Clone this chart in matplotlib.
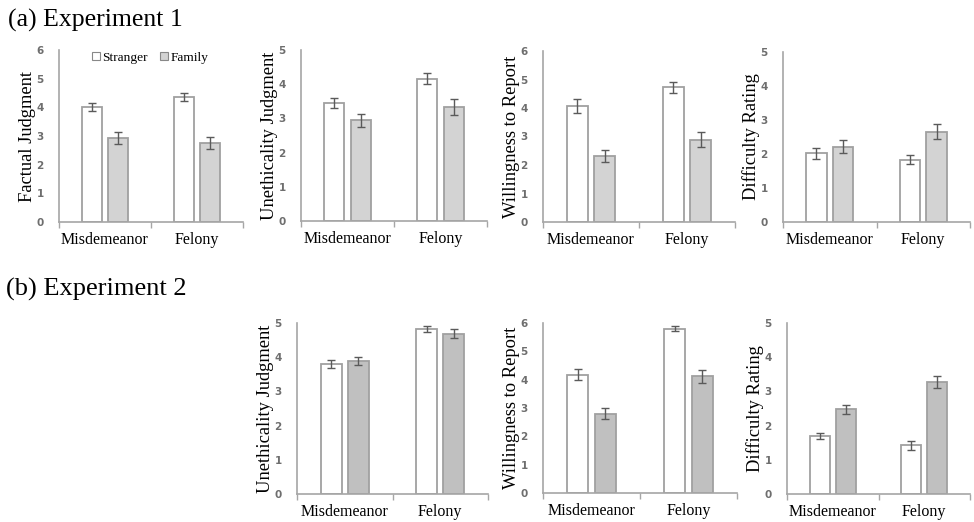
import matplotlib
matplotlib.use("Agg")
import matplotlib.pyplot as plt
import numpy as np
from matplotlib.patches import Patch

categories = ["Misdemeanor", "Felony"]
series = ["Stranger", "Family"]

# Experiment 1
e1_labels = ["Factual Judgment", "Unethicality Judgment", "Willingness to Report", "Difficulty Rating"]
e1_ymax = [6, 5, 6, 5]
e1_stranger = [[4.00, 4.35], [3.45, 4.16], [4.07, 4.73], [2.02, 1.83]]
e1_stranger_err = [[0.14, 0.14], [0.155, 0.16], [0.23, 0.19], [0.16, 0.13]]
e1_family = [[2.93, 2.75], [2.94, 3.33], [2.32, 2.89], [2.22, 2.66]]
e1_family_err = [[0.20, 0.22], [0.20, 0.24], [0.21, 0.26], [0.20, 0.23]]

# Experiment 2
e2_labels = ["Unethicality Judgment", "Willingness to Report", "Difficulty Rating"]
e2_ymax = [5, 6, 5]
e2_stranger = [[3.80, 4.83], [4.18, 5.80], [1.70, 1.42]]
e2_stranger_err = [[0.12, 0.08], [0.20, 0.09], [0.08, 0.12]]
e2_family = [[3.89, 4.68], [2.80, 4.12], [2.48, 3.28]]
e2_family_err = [[0.12, 0.13], [0.19, 0.22], [0.13, 0.17]]

W, H = 974, 522
fig = plt.figure(figsize=(W / 100, H / 100), dpi=100)

serif = ["Liberation Serif", "DejaVu Serif"]
spine_c = "#a6a6a6"
edge_c = "#a0a0a0"
err_c = "#5a5a5a"


def px_axes(l, r, b, t):
    return fig.add_axes([l / W, 1 - b / H, (r - l) / W, (b - t) / H])


def draw(ax, ymax, s, se, f, fe, label, fam_color):
    x = np.arange(len(categories))
    w = 0.22
    off = 0.143
    ax.bar(x - off, s, w, color="white", edgecolor=edge_c, linewidth=1.3, zorder=2)
    ax.bar(x + off, f, w, color=fam_color, edgecolor=edge_c, linewidth=1.3, zorder=2)
    ax.errorbar(x - off, s, yerr=se, fmt="none", ecolor=err_c, elinewidth=1.0, capsize=3, capthick=1.0, zorder=3)
    ax.errorbar(x + off, f, yerr=fe, fmt="none", ecolor=err_c, elinewidth=1.0, capsize=3, capthick=1.0, zorder=3)
    ax.set_xlim(-0.5, 1.5)
    ax.set_ylim(0, ymax)
    ax.set_yticks(range(0, ymax + 1))
    ax.set_xticks(x)
    ax.set_xticklabels(categories, fontfamily=serif, fontsize=11.5)
    ax.set_xticks([-0.5, 0.5, 1.5], minor=True)
    ax.tick_params(axis="x", which="major", length=0, pad=7)
    ax.tick_params(axis="x", which="minor", length=4, width=1, color=spine_c, direction="out")
    ax.tick_params(axis="y", length=0, pad=11, labelsize=7.5, labelcolor="#6e6e6e")
    for t in ax.get_yticklabels():
        t.set_fontweight("bold")
    for sp in ["top", "right"]:
        ax.spines[sp].set_visible(False)
    for sp in ["left", "bottom"]:
        ax.spines[sp].set_color(spine_c)
        ax.spines[sp].set_linewidth(1.2)
    ax.set_ylabel(label, fontfamily=serif, fontsize=13.3, labelpad=0.5)
    ax.set_facecolor("none")


e1_pos = [(59, 243, 222, 50), (301, 487, 221, 50), (543, 735, 222, 51), (783, 970, 222, 52)]
e2_pos = [(297, 488, 494, 323), (543, 737, 493, 323), (787, 970, 494, 323)]

axes1 = []
for i, p in enumerate(e1_pos):
    ax = px_axes(*p)
    draw(ax, e1_ymax[i], e1_stranger[i], e1_stranger_err[i], e1_family[i], e1_family_err[i],
         e1_labels[i], "#d3d3d3")
    axes1.append(ax)

for i, p in enumerate(e2_pos):
    ax = px_axes(*p)
    draw(ax, e2_ymax[i], e2_stranger[i], e2_stranger_err[i], e2_family[i], e2_family_err[i],
         e2_labels[i], "#c0c0c0")

handles = [Patch(facecolor="white", edgecolor="#888888", linewidth=0.8, label=series[0]),
           Patch(facecolor="#d3d3d3", edgecolor="#888888", linewidth=0.8, label=series[1])]
axes1[0].legend(handles=handles, loc="upper center", bbox_to_anchor=(0.495, 1.02), ncol=2,
                frameon=False, prop={"family": serif, "size": 9.6}, handlelength=0.6,
                handleheight=0.6, handletextpad=0.2, columnspacing=0.9, borderaxespad=0)

fig.text(8 / W, 1 - 20 / H, "(a) Experiment 1", fontfamily=serif, fontsize=18.5, va="center", ha="left")
fig.text(6 / W, 1 - 289 / H, "(b) Experiment 2", fontfamily=serif, fontsize=19, va="center", ha="left")

fig.savefig("out.png", dpi=100, facecolor="white")
